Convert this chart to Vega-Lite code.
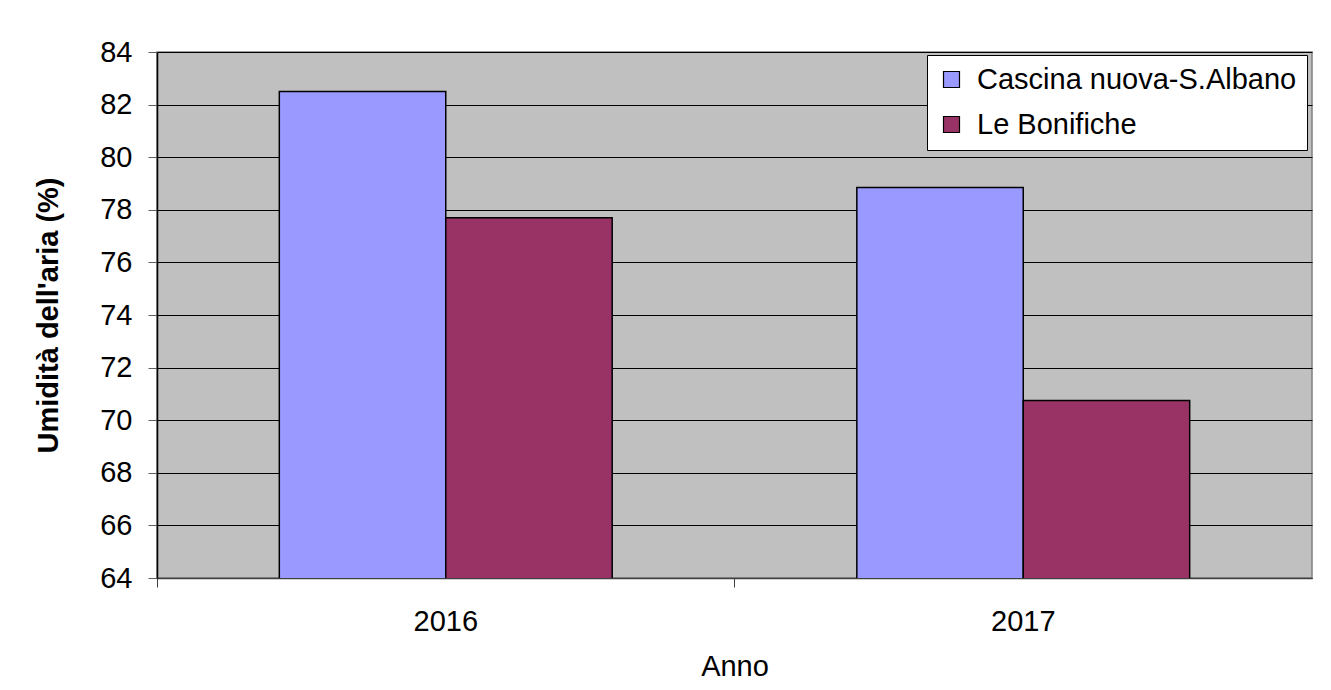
{
  "$schema": "https://vega.github.io/schema/vega-lite/v6.json",
  "autosize": "none",
  "width": 1155,
  "height": 526,
  "padding": {"left": 157, "top": 52, "right": 19, "bottom": 112},
  "background": "white",
  "config": {
    "font": "Liberation Sans",
    "view": {"fill": "#C0C0C0", "stroke": "#808080", "strokeWidth": 1.5}
  },
  "data": {
    "values": [
      {"Anno": "2016", "Stazione": "Cascina nuova-S.Albano", "Umidita": 82.5},
      {"Anno": "2016", "Stazione": "Le Bonifiche", "Umidita": 77.7},
      {"Anno": "2017", "Stazione": "Cascina nuova-S.Albano", "Umidita": 78.85},
      {"Anno": "2017", "Stazione": "Le Bonifiche", "Umidita": 70.75}
    ]
  },
  "mark": {"type": "bar", "stroke": "black", "strokeWidth": 1.5, "clip": true},
  "encoding": {
    "x": {
      "field": "Anno",
      "type": "nominal",
      "scale": {"paddingInner": 0, "paddingOuter": 0},
      "axis": {
        "title": "Anno",
        "titleFontSize": 29,
        "titleFontWeight": "normal",
        "titleColor": "black",
        "titlePadding": 16,
        "labelAngle": 0,
        "labelFontSize": 29,
        "labelColor": "black",
        "labelPadding": 20,
        "bandPosition": 0,
        "tickSize": 9,
        "tickColor": "#404040",
        "domainColor": "#404040",
        "domainWidth": 1.5,
        "grid": false
      }
    },
    "xOffset": {
      "field": "Stazione",
      "type": "nominal",
      "scale": {"paddingInner": 0, "paddingOuter": 0.735}
    },
    "y": {
      "field": "Umidita",
      "type": "quantitative",
      "scale": {"domain": [64, 84], "nice": false, "zero": false},
      "axis": {
        "title": "Umidità dell'aria (%)",
        "titleFontSize": 29,
        "titleFontWeight": "bold",
        "titleColor": "black",
        "titlePadding": 36,
        "values": [64, 66, 68, 70, 72, 74, 76, 78, 80, 82, 84],
        "labelFontSize": 29,
        "labelColor": "black",
        "labelPadding": 16,
        "tickSize": 9,
        "tickColor": "#606060",
        "domainColor": "black",
        "domainWidth": 1.5,
        "grid": true,
        "gridColor": "black",
        "gridWidth": 1,
        "gridOpacity": 1
      }
    },
    "color": {
      "field": "Stazione",
      "type": "nominal",
      "scale": {"domain": ["Cascina nuova-S.Albano", "Le Bonifiche"], "range": ["#9999FF", "#993366"]},
      "legend": {
        "title": null,
        "orient": "none",
        "legendX": 770,
        "legendY": 3,
        "fillColor": "white",
        "strokeColor": "black",
        "padding": 10,
        "symbolType": "square",
        "symbolSize": 256,
        "symbolStrokeColor": "black",
        "symbolStrokeWidth": 1.2,
        "symbolOpacity": 1,
        "labelFontSize": 29,
        "labelColor": "black",
        "labelOffset": 11,
        "rowPadding": 15,
        "labelLimit": 500
      }
    }
  }
}
